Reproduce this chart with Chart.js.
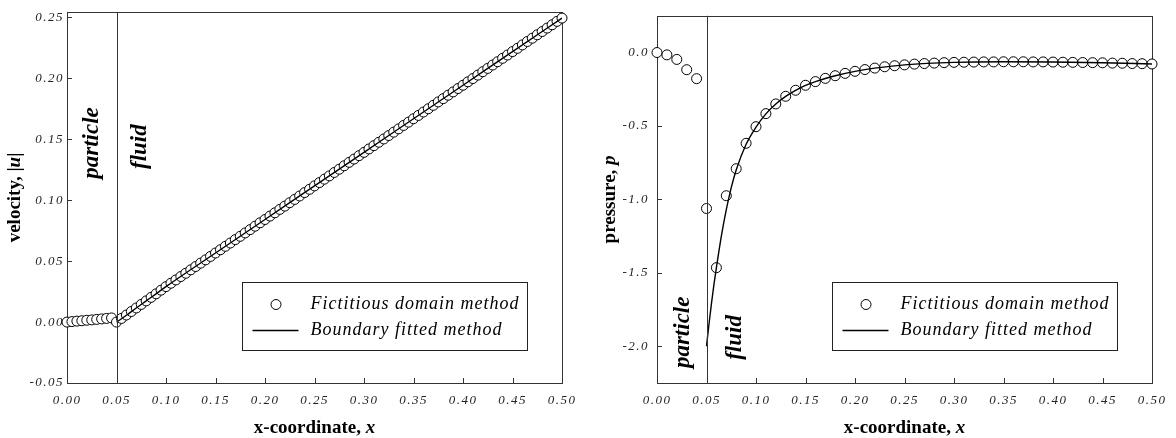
<!DOCTYPE html>
<html>
<head>
<meta charset="utf-8">
<script src="https://cdn.jsdelivr.net/npm/chart.js@4.4.1/dist/chart.umd.min.js"></script>
<style>
  body { margin: 0; background: #fff; }
  .wrap { display: flex; width: 1176px; height: 438px; }
  canvas { display: block; }
</style>
</head>
<body>
<div class="wrap">
  <canvas id="velChart" width="588" height="438"></canvas>
  <canvas id="presChart" width="588" height="438"></canvas>
</div>
<script>
// tick labels
const xTicks = [0.00, 0.05, 0.10, 0.15, 0.20, 0.25, 0.30, 0.35, 0.40, 0.45, 0.50];
const velTicks = [-0.05, 0.00, 0.05, 0.10, 0.15, 0.20, 0.25];
const presTicks = [-2.0, -1.5, -1.0, -0.5, 0.0];
const interfaceX = 0.05;

// velocity |u| - fictitious domain method (circles)
const velFdX = [
  0.000, 0.005, 0.010, 0.015, 0.020, 0.025, 0.030, 0.035, 0.040, 0.045,
  0.050, 0.055, 0.060, 0.065, 0.070, 0.075, 0.080, 0.085, 0.090, 0.095,
  0.100, 0.105, 0.110, 0.115, 0.120, 0.125, 0.130, 0.135, 0.140, 0.145,
  0.150, 0.155, 0.160, 0.165, 0.170, 0.175, 0.180, 0.185, 0.190, 0.195,
  0.200, 0.205, 0.210, 0.215, 0.220, 0.225, 0.230, 0.235, 0.240, 0.245,
  0.250, 0.255, 0.260, 0.265, 0.270, 0.275, 0.280, 0.285, 0.290, 0.295,
  0.300, 0.305, 0.310, 0.315, 0.320, 0.325, 0.330, 0.335, 0.340, 0.345,
  0.350, 0.355, 0.360, 0.365, 0.370, 0.375, 0.380, 0.385, 0.390, 0.395,
  0.400, 0.405, 0.410, 0.415, 0.420, 0.425, 0.430, 0.435, 0.440, 0.445,
  0.450, 0.455, 0.460, 0.465, 0.470, 0.475, 0.480, 0.485, 0.490, 0.495,
  0.500
];
const velFd = [
  0.0000, 0.0004, 0.0008, 0.0011, 0.0015, 0.0018, 0.0022, 0.0026, 0.0030, 0.0034,
  0.0000, 0.0030, 0.0058, 0.0087, 0.0116, 0.0145, 0.0174, 0.0203, 0.0232, 0.0262,
  0.0291, 0.0319, 0.0346, 0.0374, 0.0401, 0.0429, 0.0456, 0.0484, 0.0511, 0.0539,
  0.0567, 0.0594, 0.0622, 0.0649, 0.0677, 0.0704, 0.0732, 0.0759, 0.0787, 0.0815,
  0.0842, 0.0870, 0.0897, 0.0925, 0.0952, 0.0980, 0.1007, 0.1035, 0.1063, 0.1090,
  0.1118, 0.1145, 0.1173, 0.1200, 0.1228, 0.1255, 0.1283, 0.1311, 0.1338, 0.1366,
  0.1393, 0.1421, 0.1448, 0.1476, 0.1503, 0.1531, 0.1559, 0.1586, 0.1614, 0.1641,
  0.1669, 0.1696, 0.1724, 0.1751, 0.1779, 0.1807, 0.1834, 0.1862, 0.1889, 0.1917,
  0.1944, 0.1972, 0.1999, 0.2027, 0.2055, 0.2082, 0.2110, 0.2137, 0.2165, 0.2192,
  0.2220, 0.2247, 0.2275, 0.2303, 0.2330, 0.2358, 0.2385, 0.2413, 0.2440, 0.2468,
  0.2495
];
// velocity |u| - boundary fitted method (line)
const velBfX = [0.050, 0.055, 0.060, 0.065, 0.070, 0.080, 0.090, 0.100, 0.150, 0.200, 0.250, 0.300, 0.350, 0.400, 0.450, 0.500];
const velBf  = [0.0000, 0.0027, 0.0056, 0.0086, 0.0116, 0.0174, 0.0232, 0.0291, 0.0567, 0.0842, 0.1118, 0.1393, 0.1669, 0.1944, 0.2220, 0.2495];

// pressure p - fictitious domain method (circles)
const presFdX = [
  0.00, 0.01, 0.02, 0.03, 0.04, 0.05, 0.06, 0.07, 0.08, 0.09,
  0.10, 0.11, 0.12, 0.13, 0.14, 0.15, 0.16, 0.17, 0.18, 0.19,
  0.20, 0.21, 0.22, 0.23, 0.24, 0.25, 0.26, 0.27, 0.28, 0.29,
  0.30, 0.31, 0.32, 0.33, 0.34, 0.35, 0.36, 0.37, 0.38, 0.39,
  0.40, 0.41, 0.42, 0.43, 0.44, 0.45, 0.46, 0.47, 0.48, 0.49,
  0.50
];
const presFd = [
  0.000, -0.016, -0.047, -0.117, -0.178, -1.062, -1.465, -0.975, -0.791, -0.618,
  -0.505, -0.416, -0.350, -0.298, -0.257, -0.223, -0.198, -0.176, -0.158, -0.142,
  -0.128, -0.116, -0.106, -0.097, -0.090, -0.084, -0.079, -0.075, -0.072, -0.069,
  -0.067, -0.066, -0.065, -0.064, -0.064, -0.063, -0.063, -0.063, -0.064, -0.064,
  -0.065, -0.066, -0.067, -0.068, -0.069, -0.070, -0.072, -0.073, -0.075, -0.076,
  -0.078
];
// pressure p - boundary fitted method (line)
const presBfX = [0.050, 0.0525, 0.055, 0.0575, 0.060, 0.065, 0.070, 0.075, 0.080, 0.090, 0.100, 0.110, 0.120, 0.130, 0.140, 0.150, 0.160, 0.180, 0.200, 0.220, 0.250, 0.300, 0.350, 0.400, 0.450, 0.500];
const presBf  = [-2.000, -1.850, -1.710, -1.580, -1.465, -1.250, -1.070, -0.920, -0.800, -0.625, -0.508, -0.418, -0.351, -0.299, -0.258, -0.224, -0.198, -0.158, -0.128, -0.106, -0.084, -0.067, -0.063, -0.065, -0.070, -0.078];

const SERIF = '"Liberation Serif", "Times New Roman", serif';

function pts(xs, ys) {
  return xs.map((x, i) => ({ x: x, y: ys[i] }));
}

// draws a run of text pieces with different fonts, centred on (cx, cy)
function drawRich(ctx, parts, cx, cy, rotate) {
  ctx.save();
  ctx.translate(cx, cy);
  if (rotate) ctx.rotate(-Math.PI / 2);
  ctx.textBaseline = 'middle';
  ctx.textAlign = 'left';
  ctx.fillStyle = '#000';
  let w = 0;
  parts.forEach(p => { ctx.font = p.font; w += ctx.measureText(p.text).width; });
  let x = -w / 2;
  parts.forEach(p => {
    ctx.font = p.font;
    ctx.fillText(p.text, x, 0);
    x += ctx.measureText(p.text).width;
  });
  ctx.restore();
}

const framePlugin = {
  id: 'frame',
  beforeDraw(chart) {
    chart.ctx.letterSpacing = '1.5px';
  },
  beforeDatasetsDraw(chart, args, opts) {
    const { ctx, chartArea: a, scales: { x, y } } = chart;
    ctx.save();
    ctx.letterSpacing = '0px';
    ctx.strokeStyle = '#333';
    ctx.lineWidth = 1;
    ctx.strokeRect(Math.round(a.left) + 0.5, Math.round(a.top) + 0.5,
      Math.round(a.right - a.left), Math.round(a.bottom - a.top));
    ctx.beginPath();
    xTicks.forEach(v => {
      const px = Math.round(x.getPixelForValue(v)) + 0.5;
      ctx.moveTo(px, a.bottom);
      ctx.lineTo(px, a.bottom - 5);
    });
    opts.yTicks.forEach(v => {
      const py = Math.round(y.getPixelForValue(v)) + 0.5;
      ctx.moveTo(a.left, py);
      ctx.lineTo(a.left + 5, py);
    });
    ctx.stroke();
    ctx.restore();
  },
  afterDatasetsDraw(chart, args, opts) {
    const { ctx, chartArea: a, scales: { x, y } } = chart;
    ctx.save();
    ctx.letterSpacing = '0px';
    // particle / fluid interface
    const ix = Math.round(x.getPixelForValue(interfaceX)) + 0.5;
    ctx.strokeStyle = '#333';
    ctx.lineWidth = 1;
    ctx.beginPath();
    ctx.moveTo(ix, a.top);
    ctx.lineTo(ix, a.bottom);
    ctx.stroke();

    // region labels
    opts.labels.forEach(l => {
      drawRich(ctx, [{ text: l.text, font: 'italic bold 23px ' + SERIF }],
        x.getPixelForValue(l.x), y.getPixelForValue(l.y), true);
    });

    // legend box
    const bw = 285, bh = 68;
    const bx = Math.round(a.right - 35 - bw) + 0.5;
    const by = Math.round(a.bottom - 33 - bh) + 0.5;
    ctx.fillStyle = '#fff';
    ctx.fillRect(bx, by, bw, bh);
    ctx.strokeStyle = '#222';
    ctx.strokeRect(bx, by, bw, bh);
    chart.data.datasets.forEach((ds, i) => {
      const ry = by + 22 + i * 26;
      if (ds.showLine) {
        ctx.strokeStyle = ds.borderColor;
        ctx.lineWidth = ds.borderWidth;
        ctx.beginPath();
        ctx.moveTo(bx + 10, ry);
        ctx.lineTo(bx + 56, ry);
        ctx.stroke();
      } else {
        ctx.fillStyle = '#fff';
        ctx.strokeStyle = '#000';
        ctx.lineWidth = 1;
        ctx.beginPath();
        ctx.arc(bx + 33.5, ry, 5, 0, Math.PI * 2);
        ctx.fill();
        ctx.stroke();
      }
      ctx.fillStyle = '#000';
      ctx.font = 'italic 18px ' + SERIF;
      ctx.letterSpacing = '1px';
      ctx.textBaseline = 'middle';
      ctx.textAlign = 'left';
      ctx.fillText(ds.label, bx + 68, ry);
      ctx.letterSpacing = '0px';
    });
    ctx.restore();
  },
  afterDraw(chart, args, opts) {
    const { ctx, chartArea: a } = chart;
    ctx.letterSpacing = '0px';
    const bold = 'bold 19px ' + SERIF;
    const boldIt = 'italic bold 19px ' + SERIF;
    drawRich(ctx, [{ text: 'x-coordinate, ', font: bold }, { text: 'x', font: boldIt }],
      (a.left + a.right) / 2, 428, false);
    drawRich(ctx, opts.yTitle.map(p => ({ text: p.text, font: p.italic ? boldIt : bold })),
      opts.yTitleX, (a.top + a.bottom) / 2, true);
  }
};

function makeChart(id, cfg) {
  return new Chart(document.getElementById(id), {
    type: 'scatter',
    data: {
      datasets: [
        {
          label: 'Fictitious domain method',
          data: cfg.fd,
          showLine: false,
          pointRadius: 5,
          pointBorderWidth: 1,
          pointBorderColor: '#000',
          pointBackgroundColor: '#fff',
          clip: false,
          order: 1
        },
        {
          label: 'Boundary fitted method',
          data: cfg.bf,
          showLine: true,
          borderColor: '#000',
          borderWidth: 1.4,
          pointRadius: 0,
          cubicInterpolationMode: 'monotone',
          order: 0
        }
      ]
    },
    options: {
      responsive: false,
      animation: false,
      events: [],
      layout: { padding: { top: 12, right: cfg.padRight, left: 0, bottom: 0 } },
      plugins: {
        legend: { display: false },
        tooltip: { enabled: false },
        frame: { yTicks: cfg.yTicks, labels: cfg.labels, yTitle: cfg.yTitle, yTitleX: cfg.yTitleX }
      },
      scales: {
        x: {
          type: 'linear',
          min: 0,
          max: 0.5,
          grid: { display: false, drawTicks: false },
          border: { display: false },
          afterBuildTicks: s => { s.ticks = xTicks.map(v => ({ value: v })); },
          afterFit: s => { s.height = 55; },
          ticks: {
            padding: 10,
            color: '#222',
            font: { family: SERIF, size: 13, style: 'italic' },
            maxRotation: 0,
            callback: v => v.toFixed(2)
          }
        },
        y: {
          type: 'linear',
          min: cfg.yMin,
          max: cfg.yMax,
          grid: { display: false, drawTicks: false },
          border: { display: false },
          afterBuildTicks: s => { s.ticks = cfg.yTicks.map(v => ({ value: v })); },
          afterFit: s => { s.width = cfg.yWidth; },
          ticks: {
            padding: cfg.yPad,
            color: '#222',
            font: { family: SERIF, size: 13, style: 'italic' },
            callback: v => v.toFixed(cfg.yDigits)
          }
        }
      }
    },
    plugins: [framePlugin]
  });
}

makeChart('velChart', {
  fd: pts(velFdX, velFd),
  bf: pts(velBfX, velBf),
  yTicks: velTicks,
  yMin: -0.05,
  yMax: 0.2545,
  yDigits: 2,
  yWidth: 67,
  yPad: 3,
  padRight: 26,
  yTitle: [{ text: 'velocity, |' }, { text: 'u', italic: true }, { text: '|' }],
  yTitleX: 15,
  labels: [
    { text: 'particle', x: 0.025, y: 0.147 },
    { text: 'fluid', x: 0.074, y: 0.144 }
  ]
});

makeChart('presChart', {
  fd: pts(presFdX, presFd),
  bf: pts(presBfX, presBf),
  yTicks: presTicks,
  yMin: -2.25,
  yMax: 0.25,
  yDigits: 1,
  yWidth: 69,
  yPad: 8,
  padRight: 24,
  yTitle: [{ text: 'pressure, ' }, { text: 'p', italic: true }],
  yTitleX: 22,
  labels: [
    { text: 'particle', x: 0.026, y: -1.905 },
    { text: 'fluid', x: 0.079, y: -1.94 }
  ]
});
</script>
</body>
</html>
